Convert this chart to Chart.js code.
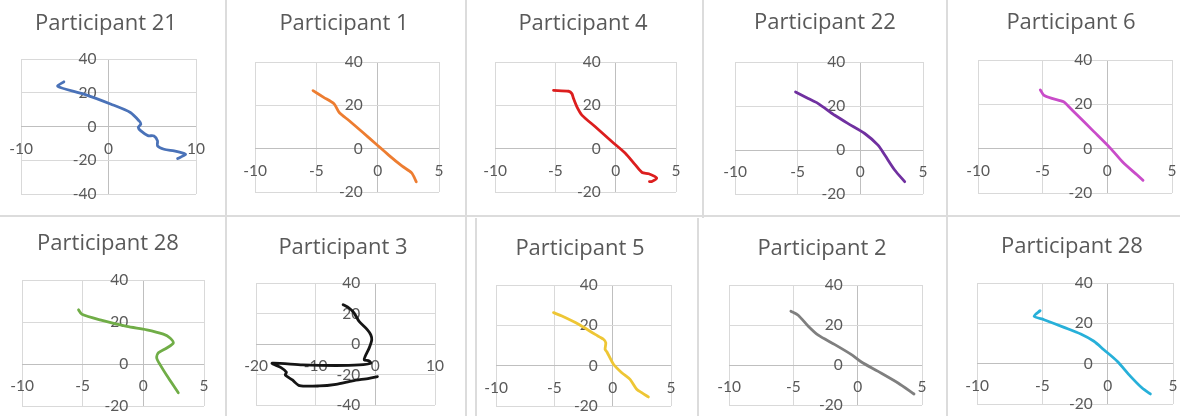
<!DOCTYPE html>
<html>
<head>
<meta charset="utf-8">
<title>Participant trajectories</title>
<script src="https://cdn.jsdelivr.net/npm/chart.js@4.4.1/dist/chart.umd.min.js"></script>
<style>
  html, body { margin: 0; padding: 0; background: #ffffff; }
  #board { position: relative; width: 1180px; height: 416px; overflow: hidden; background: #ffffff; }
  #board canvas { position: absolute; }
  .sep { position: absolute; background: #dcdcdc; }
</style>
</head>
<body>
<div id="board"></div>
<script>
// ---- tick values ----
const xTicksWide = [-10, 0, 10];
const xTicksNarrow = [-10, -5, 0, 5];
const xTicksLeft = [-20, -10, 0, 10];
const yTicksTall = [-40, -20, 0, 20, 40];
const yTicksShort = [-20, 0, 20, 40];

// ---- traced paths, [x, y] per sample ----
const p21 = [[-5.1, 26.5], [-5.8, 23.8], [-2.8, 19.2], [0.3, 13.2], [2.5, 8.3], [3.5, 3.3], [3.7, 1.4],
  [3.4, -0.6], [3.7, -2.6], [4.5, -5.4], [5.2, -5.6], [5.6, -8.5], [5.6, -11.5], [6.35, -13.5],
  [7.5, -14.5], [8.6, -15.9], [8.8, -16.6], [7.9, -19]];
const p1 = [[-5.27, 26.8], [-4.4, 23.7], [-3.56, 20.7], [-3.15, 16.8], [-2.34, 13.0], [-1.25, 7.7],
  [-0.16, 2.3], [0.92, -3.1], [2.0, -8.1], [2.77, -11.2], [3.15, -15.3]];
const p4 = [[-5.15, 26.9], [-3.9, 26.5], [-3.63, 25.4], [-3.49, 23.1], [-3.21, 19.3], [-2.8, 15.5],
  [-1.69, 10.1], [-0.3, 3.2], [0.8, -2.1], [1.63, -7.5], [2.19, -11], [2.74, -11.6], [3.4, -13.6],
  [3.0, -15.2], [2.8, -15.2]];
const p22 = [[-5.17, 26.4], [-4.16, 23.4], [-3.36, 21.1], [-2.04, 15.8], [-0.97, 12.0], [0.35, 7.5],
  [1.41, 2.2], [1.95, -2.3], [2.74, -9.1], [3.54, -14.4]];
const p6 = [[-5.18, 26.5], [-4.92, 24.2], [-4.28, 22.7], [-3.38, 21.2], [-2.99, 19.0], [-2.35, 15.3],
  [-1.06, 7.8], [0.23, 0.25], [1.26, -6.5], [2.29, -11.8], [2.76, -14.3]];
const p28a = [[-5.34, 25.8], [-5.06, 23.7], [-3.56, 21.0], [-1.36, 17.9], [0.28, 16.3], [1.65, 14.2],
  [2.2, 12.4], [2.47, 10.0], [1.93, 7.6], [1.24, 5.3], [1.1, 2.9], [1.38, -0.3], [2.06, -6.6], [2.88, -13.7]];
const p3 = [[-5.4, 25.8], [-4.4, 23.6], [-3.55, 20.3], [-2.72, 14.8], [-1.32, 9.3], [-0.76, 6.0],
  [-0.6, 2.7], [-1.04, -2.7], [-1.71, -8.2], [-1.88, -10.4], [-1.04, -11.1], [-0.76, -12.6],
  [-2.7, -13.7], [-6.6, -14.1], [-12.2, -13.7], [-17.3, -12.6], [-15.8, -15.5], [-14.9, -18.5],
  [-15.1, -20.3], [-13.9, -23.6], [-12.7, -27.3], [-9.4, -27.5], [-6.6, -26.4], [-3.83, -24.2],
  [-1.04, -22.5], [0.35, -21.4]];
const p5 = [[-5.07, 26.3], [-4.35, 24.6], [-2.92, 20.5], [-1.5, 15.5], [-0.79, 13.1], [-0.59, 11.4],
  [-0.65, 8.1], [-0.5, 6.9], [0.07, 0.7], [0.78, -3.5], [1.49, -6.8], [2.06, -11.7], [2.49, -13.4], [3.06, -15.5]];
const p2 = [[-5.19, 26.9], [-4.62, 24.9], [-3.84, 19.4], [-3.06, 14.9], [-1.77, 10.2], [-0.48, 5.2],
  [0.29, 1.5], [1.59, -3.2], [3.14, -9.0], [4.38, -14.5]];
const p28b = [[-5.17, 26.3], [-5.63, 23.5], [-4.87, 21.8], [-3.34, 18.0], [-2.06, 14.7], [-1.05, 11.1],
  [-0.29, 6.9], [0.73, 1.2], [1.75, -6.3], [2.64, -12.1], [3.27, -15.0]];

// ---- panel layout: cell box, plot box and title anchor in page pixels ----
const panels = [
  { title: 'Participant 21', path: p21, color: '#4a72b8', x: [-10, 10, 10], y: [-40, 40, 20], xt: xTicksWide, yt: yTicksTall,
    cell: [0, 0, 225, 216], plot: [21, 59, 196, 194], tx: 106, ty: 30, gap: 12 },
  { title: 'Participant 1', path: p1, color: '#ed7d31', x: [-10, 5, 5], y: [-20, 40, 20], xt: xTicksNarrow, yt: yTicksShort,
    cell: [226, 0, 239, 216], plot: [255, 62, 439, 192], tx: 344, ty: 30, gap: 15 },
  { title: 'Participant 4', path: p4, color: '#dc1e1e', x: [-10, 5, 5], y: [-20, 40, 20], xt: xTicksNarrow, yt: yTicksShort,
    cell: [466, 0, 236, 216], plot: [495, 62, 676, 192], tx: 583, ty: 30, gap: 15 },
  { title: 'Participant 22', path: p22, color: '#7030a0', x: [-10, 5, 5], y: [-20, 40, 20], xt: xTicksNarrow, yt: yTicksShort,
    cell: [703, 0, 243, 216], plot: [735, 62, 923, 194], tx: 825, ty: 29, gap: 15 },
  { title: 'Participant 6', path: p6, color: '#c94cc9', x: [-10, 5, 5], y: [-20, 40, 20], xt: xTicksNarrow, yt: yTicksShort,
    cell: [947, 0, 233, 216], plot: [978, 60, 1172, 193], tx: 1071, ty: 29, gap: 15 },
  { title: 'Participant 28', path: p28a, color: '#70ad47', x: [-10, 5, 5], y: [-20, 40, 20], xt: xTicksNarrow, yt: yTicksShort,
    cell: [0, 218, 225, 198], plot: [22, 280, 204, 406], tx: 108, ty: 250, gap: 15 },
  { title: 'Participant 3', path: p3, color: '#151515', x: [-20, 10, 10], y: [-40, 40, 20], xt: xTicksLeft, yt: yTicksTall,
    cell: [226, 218, 239, 198], plot: [256, 283, 435, 405], tx: 343, ty: 254, gap: 15 },
  { title: 'Participant 5', path: p5, color: '#eec635', x: [-10, 5, 5], y: [-20, 40, 20], xt: xTicksNarrow, yt: yTicksShort,
    cell: [476, 218, 221, 198], plot: [496, 285, 671, 406], tx: 580, ty: 255, gap: 15 },
  { title: 'Participant 2', path: p2, color: '#7f7f7f', x: [-10, 5, 5], y: [-20, 40, 20], xt: xTicksNarrow, yt: yTicksShort,
    cell: [698, 218, 248, 198], plot: [729, 285, 922, 405], tx: 822, ty: 255, gap: 15 },
  { title: 'Participant 28', path: p28b, color: '#27b0d9', x: [-10, 5, 5], y: [-20, 40, 20], xt: xTicksNarrow, yt: yTicksShort,
    cell: [947, 218, 233, 198], plot: [977, 283, 1173, 404], tx: 1072, ty: 253, gap: 15 }
];

// ---- thin separators between the chart tiles ----
const separators = [
  [0, 215, 1180, 2],
  [225, 0, 2, 216], [465, 0, 2, 216], [702, 0, 2, 218], [946, 0, 2, 216],
  [225, 216, 2, 200], [465, 216, 2, 200], [475, 218, 2, 198], [697, 218, 2, 198], [946, 216, 2, 200]
];

const board = document.getElementById('board');
separators.forEach(([l, t, w, h]) => {
  const d = document.createElement('div');
  d.className = 'sep';
  Object.assign(d.style, { left: l + 'px', top: t + 'px', width: w + 'px', height: h + 'px' });
  board.appendChild(d);
});

const TICK_FONT = '15.5px Lato, "Open Sans", sans-serif';
const TITLE_FONT = '22px "Open Sans", Lato, sans-serif';
const GRID = '#d9d9d9';
const AXIS = '#bfbfbf';
const TEXT = '#595959';

// draws tick labels next to the zero axes and the tile title
function axisLabels(p) {
  return {
    id: 'axisLabels',
    beforeDatasetsDraw(chart) {
      const { ctx, scales: { x, y } } = chart;
      const ox = p.cell[0], oy = p.cell[1];
      const x0 = x.getPixelForValue(0);
      const y0 = y.getPixelForValue(0);
      ctx.save();
      ctx.fillStyle = TEXT;
      ctx.font = TICK_FONT;
      ctx.textAlign = 'center';
      ctx.textBaseline = 'middle';
      p.xt.forEach(v => ctx.fillText(String(v), x.getPixelForValue(v), y0 + 22));
      ctx.textAlign = 'right';
      p.yt.forEach(v => ctx.fillText(String(v), x0 - p.gap, y.getPixelForValue(v)));
      ctx.font = TITLE_FONT;
      ctx.textAlign = 'center';
      ctx.textBaseline = 'alphabetic';
      ctx.fillText(p.title, p.tx - ox, p.ty - oy);
      ctx.restore();
    }
  };
}

function scaleFor(range) {
  return {
    type: 'linear',
    min: range[0],
    max: range[1],
    ticks: { display: false, stepSize: range[2] },
    grid: {
      drawTicks: false,
      lineWidth: 1,
      color: c => (c.tick && c.tick.value === 0 ? AXIS : GRID)
    },
    border: { display: false }
  };
}

panels.forEach(p => {
  const [cl, ct, cw, ch] = p.cell;
  const [pl, pt, pr, pb] = p.plot;
  const cv = document.createElement('canvas');
  cv.width = cw;
  cv.height = ch;
  cv.style.left = cl + 'px';
  cv.style.top = ct + 'px';
  cv.style.width = cw + 'px';
  cv.style.height = ch + 'px';
  board.appendChild(cv);

  new Chart(cv, {
    type: 'scatter',
    data: {
      datasets: [{
        data: p.path.map(([x, y]) => ({ x, y })),
        showLine: true,
        borderColor: p.color,
        backgroundColor: p.color,
        borderWidth: 2.8,
        pointRadius: 0,
        tension: 0.25,
        borderCapStyle: 'round',
        borderJoinStyle: 'round'
      }]
    },
    options: {
      responsive: false,
      animation: false,
      devicePixelRatio: 1,
      layout: { padding: { left: pl - cl, top: pt - ct, right: cl + cw - pr, bottom: ct + ch - pb } },
      plugins: { legend: { display: false }, tooltip: { enabled: false }, title: { display: false } },
      scales: { x: scaleFor(p.x), y: scaleFor(p.y) }
    },
    plugins: [axisLabels(p)]
  });
});
</script>
</body>
</html>
